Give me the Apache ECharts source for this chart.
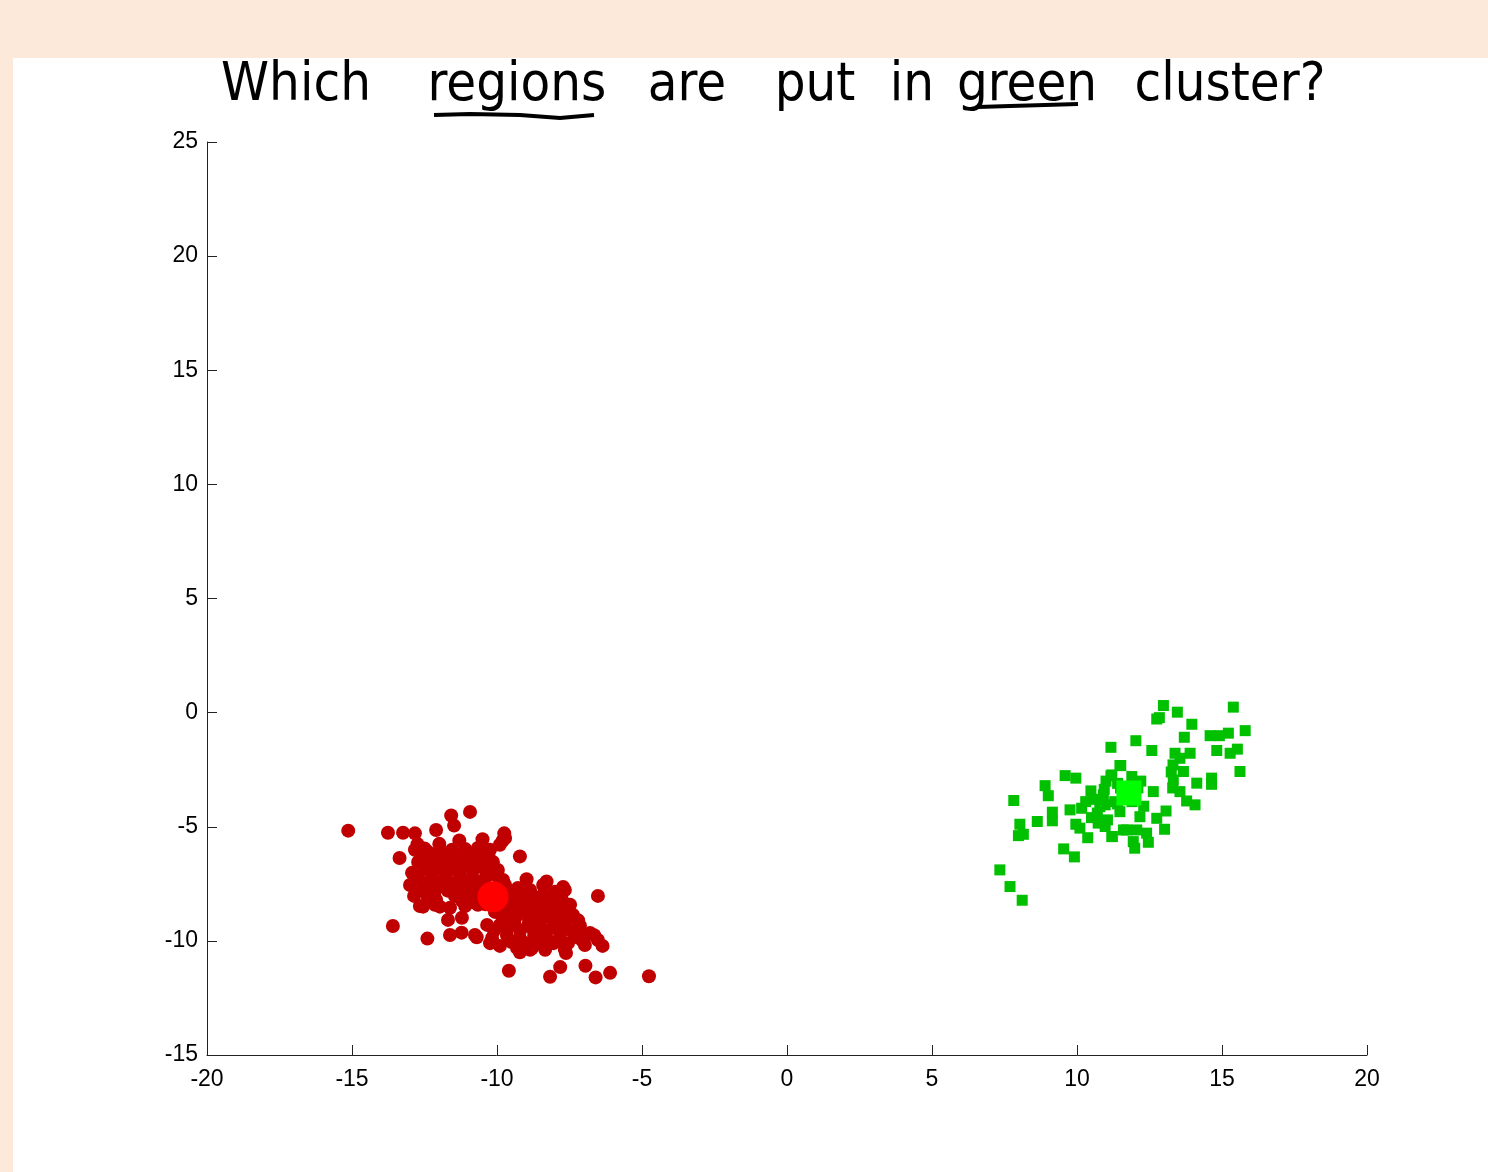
<!DOCTYPE html>
<html>
<head>
<meta charset="utf-8">
<script src="https://cdn.jsdelivr.net/npm/echarts@6/dist/echarts.min.js"></script>
<style>
html,body{margin:0;padding:0;background:#fde9da;}
#chart{width:1488px;height:1172px;}
</style>
</head>
<body>
<div id="chart"></div>
<script>
// ---- data ----
const titleWords = ["Which", "regions", "are", "put", "in", "green", "cluster?"];
const xTicks = [-20, -15, -10, -5, 0, 5, 10, 15, 20];
const yTicks = [-15, -10, -5, 0, 5, 10, 15, 20, 25];

const redPoints = [
  [-12.83,-6.01],[-12.38,-6.1],[-11.97,-6.01],[-11.55,-6.01],[-11.1,-5.97],[-10.66,-5.93],[-10.24,-6.01],[-9.9,-5.79],[-9.72,-5.49],
  [-12.72,-6.54],[-12.31,-6.63],[-11.79,-6.45],[-11.38,-6.54],[-10.93,-6.36],[-10.52,-6.45],[-10.14,-6.54],
  [-12.93,-7.02],[-12.24,-7.07],[-11.72,-6.98],[-11.28,-6.98],[-10.83,-6.89],[-10.38,-6.98],[-9.97,-6.89],
  [-13.0,-7.55],[-12.48,-7.59],[-12.03,-7.5],[-11.55,-7.5],[-11.07,-7.46],[-10.66,-7.5],[-9.79,-7.33],
  [-12.86,-8.03],[-12.38,-8.12],[-11.45,-8.03],[-11.0,-7.94],[-10.59,-8.12],[-9.55,-7.85],
  [-12.66,-8.47],[-12.14,-8.42],[-11.62,-8.55],[-11.1,-8.47],[-10.66,-8.42],
  [-11.21,-8.99],[-11.69,-9.08],[-12.55,-8.5],[-11.97,-8.5],
  [-9.72,-7.55],[-9.28,-7.68],[-8.86,-7.77],[-8.41,-7.55],[-8.0,-7.85],[-7.66,-7.77],
  [-9.9,-8.2],[-9.48,-8.29],[-9.03,-8.2],[-8.62,-8.12],[-8.17,-8.34],[-7.76,-8.2],[-7.48,-8.42],
  [-10.07,-8.73],[-9.55,-8.73],[-9.14,-8.64],[-8.69,-8.77],[-8.24,-8.73],[-7.83,-8.86],[-7.38,-8.86],
  [-10.34,-9.3],[-9.9,-9.3],[-9.41,-9.21],[-8.93,-9.3],[-8.52,-9.3],[-8.07,-9.39],[-7.66,-9.3],[-7.14,-9.34],
  [-10.76,-9.74],[-10.17,-9.87],[-9.66,-9.74],[-9.21,-9.87],[-8.72,-9.74],[-8.28,-9.87],[-7.83,-9.87],[-7.31,-9.83],[-6.79,-9.65],
  [-9.9,-10.22],[-9.31,-10.31],[-8.86,-10.39],[-8.34,-10.39],[-7.66,-10.39],[-6.97,-10.18],[-6.52,-9.96],
  [-12.6,-6.3],[-12.1,-6.35],[-11.6,-6.25],[-11.15,-6.25],[-10.7,-6.2],[-10.3,-6.25],
  [-12.5,-6.85],[-12.0,-6.8],[-11.5,-6.75],[-11.05,-6.7],[-10.6,-6.7],[-10.15,-6.75],
  [-12.7,-7.3],[-12.25,-7.3],[-11.8,-7.25],[-11.3,-7.25],[-10.85,-7.2],[-10.4,-7.25],[-10.0,-7.15],
  [-12.6,-7.8],[-12.15,-7.85],[-11.7,-7.8],[-11.25,-7.75],[-10.8,-7.7],[-10.35,-7.75],[-9.95,-7.6],
  [-12.1,-8.2],[-11.2,-8.25],[-10.85,-8.3],[-10.4,-8.4],
  [-9.6,-7.95],[-9.2,-7.95],[-8.8,-8.0],[-8.4,-7.95],[-7.95,-8.1],
  [-9.75,-8.5],[-9.3,-8.45],[-8.85,-8.45],[-8.4,-8.5],[-8.0,-8.55],[-7.6,-8.6],
  [-9.8,-9.0],[-9.35,-8.95],[-8.9,-9.0],[-8.45,-9.0],[-8.05,-9.1],[-7.6,-9.05],[-7.2,-9.1],
  [-10.1,-9.55],[-9.65,-9.5],[-9.2,-9.55],[-8.75,-9.5],[-8.3,-9.55],[-7.85,-9.6],[-7.45,-9.55],
  [-9.5,-10.05],[-9.0,-10.1],[-8.55,-10.1],[-8.05,-10.1],[-7.55,-10.1],[-7.05,-10.0],
  [-15.13,-5.17],[-13.76,-5.26],[-13.24,-5.26],[-12.83,-5.29],[-12.74,-5.76],[-12.1,-5.14],[-11.58,-4.51],[-11.48,-4.95],
  [-10.93,-4.35],[-9.75,-5.29],[-9.8,-5.6],[-9.21,-6.3],[-13.36,-6.37],[-13.59,-9.35],[-12.4,-9.9],[-11.62,-9.74],
  [-11.22,-9.64],[-10.7,-9.84],[-10.24,-10.1],[-9.59,-11.31],[-9.21,-10.5],[-8.8,-10.32],[-8.17,-11.57],[-7.82,-11.15],
  [-6.95,-11.09],[-6.6,-11.6],[-6.1,-11.4],[-4.76,-11.55],[-6.36,-10.22],[-6.65,-9.75],[-7.1,-9.7],[-8.98,-7.3],
  [-8.29,-7.4],[-7.72,-7.64],[-6.52,-8.03],[-7.62,-10.53],[-11.99,-5.75],[-11.3,-5.6],[-10.5,-5.55],[-12.5,-5.95]
];
const redCentroid = [[-10.14,-8.07]];

const greenPoints = [
  [11.17,-1.52],[9.59,-2.76],[9.96,-2.87],[8.9,-3.2],[9.01,-3.64],[7.82,-3.85],[10.48,-3.43],[10.94,-3.36],
  [11.48,-2.32],[11.17,-2.77],[10.79,-4.12],[9.76,-4.26],[10.16,-4.19],[9.15,-4.36],[9.15,-4.74],[8.63,-4.77],
  [8.03,-4.89],[8.15,-5.33],[7.98,-5.39],[9.96,-4.89],[10.1,-5.06],[10.37,-5.48],[10.73,-4.84],[10.97,-4.99],
  [11.2,-5.43],[9.54,-5.97],[9.91,-6.32],[7.34,-6.89],[7.69,-7.62],[8.11,-8.22],[11.6,-5.14],
  [12.98,0.31],[13.46,0.02],[12.75,-0.28],[12.84,-0.22],[15.39,0.24],[13.96,-0.51],[13.7,-1.08],[14.59,-1.01],
  [14.91,-1.01],[15.22,-0.9],[15.8,-0.79],[12.03,-1.23],[12.58,-1.66],[13.38,-1.78],[13.9,-1.78],[14.82,-1.66],
  [15.28,-1.78],[15.53,-1.6],[15.62,-2.58],[13.31,-2.29],[13.67,-2.58],[13.32,-2.95],[14.13,-3.09],[14.64,-2.87],
  [14.64,-3.14],[13.55,-3.46],[13.78,-3.87],[14.07,-4.04],[11.51,-2.32],[11.2,-2.73],[11.89,-2.8],[12.63,-3.46],
  [10.91,-3.6],[10.97,-4.04],[11.48,-4.34],[12.17,-4.56],[13.07,-4.31],[12.75,-4.63],[13.02,-5.11],[11.71,-5.14],
  [12.06,-5.14],[12.4,-5.28],[11.22,-5.43],[11.94,-5.65],[12.46,-5.68],[11.99,-5.94],[13.25,-2.6],[13.3,-3.3],
  [10.6,-3.8],[10.8,-3.9],[10.5,-4.6],[10.7,-4.4],[11.05,-4.7],[11.3,-3.9],[11.4,-3.1],[12.2,-3.0],[13.55,-2.0],
  [11.5,-3.3],[11.9,-3.9],[12.1,-3.3],[11.4,-4.0],[10.3,-3.9],[11.0,-3.0],[12.3,-4.1]
];
const greenCentroid = [[11.79,-3.52]];

// ---- chart ----
const chart = echarts.init(document.getElementById('chart'), null, {renderer:'canvas'});
const wordCenters = [296, 517, 687, 815, 912, 1027, 1230];
const titleGraphics = titleWords.map((w, i) => ({
  type: 'text', x: wordCenters[i], y: 86, z: 10,
  style: {
    text: w, fill: '#000', align: 'center', verticalAlign: 'middle',
    font: 'normal 54px "DejaVu Sans Condensed", "Liberation Sans Narrow", "DejaVu Sans", sans-serif'
  }
}));

const option = {
  backgroundColor: 'transparent',
  animation: false,
  graphic: [
    { type: 'rect', shape: { x: 13, y: 58, width: 1475, height: 1114 }, style: { fill: '#ffffff' }, z: -10 },
    ...titleGraphics,
    { type: 'polyline', shape: { points: [[434,115],[470,114],[520,115],[560,118],[594,115]] }, style: { stroke: '#000', lineWidth: 4, fill: null }, z: 10 },
    { type: 'polyline', shape: { points: [[978,107],[1010,106],[1045,105],[1078,104]] }, style: { stroke: '#000', lineWidth: 4, fill: null }, z: 10 }
  ],
  grid: { left: 207, right: 121, top: 142, bottom: 117, containLabel: false },
  xAxis: {
    type: 'value', min: -20, max: 20, interval: 5,
    axisLine: { show: true, onZero: false, lineStyle: { color: '#222', width: 1 } },
    axisTick: { show: true, inside: true, length: 10, lineStyle: { color: '#222' } },
    axisLabel: { color: '#000', fontSize: 23, margin: 13, fontFamily: '"Liberation Sans", Arial, sans-serif',
      formatter: v => xTicks.includes(v) ? String(v) : '' },
    splitLine: { show: false }
  },
  yAxis: {
    type: 'value', min: -15, max: 25, interval: 5,
    axisLine: { show: true, onZero: false, lineStyle: { color: '#222', width: 1 } },
    axisTick: { show: true, inside: true, length: 10, lineStyle: { color: '#222' } },
    axisLabel: { color: '#000', fontSize: 23, margin: 9, fontFamily: '"Liberation Sans", Arial, sans-serif',
      formatter: v => yTicks.includes(v) ? String(v) : '' },
    splitLine: { show: false }
  },
  series: [
    { type: 'scatter', data: redPoints, symbol: 'circle', symbolSize: 14, itemStyle: { color: '#c00000', opacity: 1 }, z: 2 },
    { type: 'scatter', data: greenPoints, symbol: 'rect', symbolSize: 11, itemStyle: { color: '#00c000', opacity: 1 }, z: 2 },
    { type: 'scatter', data: redCentroid, symbol: 'circle', symbolSize: 31, itemStyle: { color: '#ff0000', opacity: 1 }, z: 3 },
    { type: 'scatter', data: greenCentroid, symbol: 'rect', symbolSize: 25, itemStyle: { color: '#00ff00', opacity: 1 }, z: 3 }
  ]
};
chart.setOption(option);
</script>
</body>
</html>
